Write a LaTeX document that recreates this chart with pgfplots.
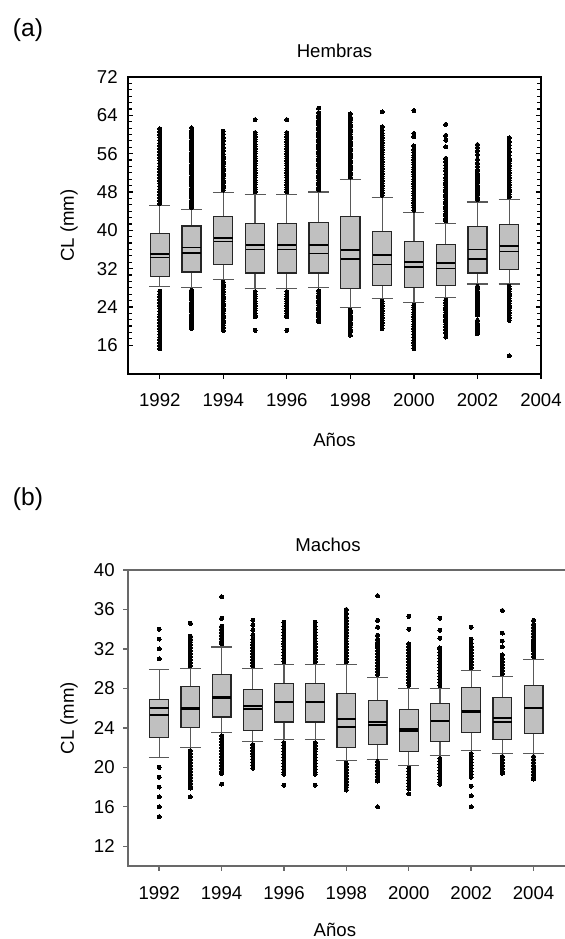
\documentclass[border=0pt]{standalone}
\usepackage{fontspec}
\setmainfont{Liberation Sans}
\usepackage{pgfplots}
\pgfplotsset{compat=1.18}
\usepgfplotslibrary{statistics}
\definecolor{boxgray}{RGB}{192,192,192}
\definecolor{axgray}{RGB}{105,105,105}
\newcommand{\tf}{\fontsize{9.3}{11}\selectfont}
\pgfplotsset{
  bx/.style={black, line width=0.55pt, mark=*, mark size=1.0pt,
    mark options={fill=black, draw=black, line width=0pt},
    boxplot/draw direction=y,
    boxplot/box extend=0.6, boxplot/whisker extend=0.66,
    boxplot/every box/.style={fill=boxgray, draw=black!85, line width=0.6pt},
    boxplot/every whisker/.style={draw=black!65, line width=0.6pt},
    boxplot/every median/.style={draw=black, line width=0.95pt},
    boxplot/draw/average/.code={\draw[black, line width=0.7pt] (boxplot box cs:\pgfplotsboxplotvalue{average},0) -- (boxplot box cs:\pgfplotsboxplotvalue{average},1);},
  },
  common/.style={anchor=south west, scale only axis,
    tick align=inside, major tick length=2.5pt, minor tick length=1.8pt,
    x tick style={yshift=-2.5pt},
    xtick pos=bottom,
    every tick label/.append style={font=\tf},
    /pgf/number format/1000 sep={}, /pgf/number format/assume math mode=true,
    xmin=0, xtick={1,3,5,7,9,11,13}, xticklabels={1992,1994,1996,1998,2000,2002,2004},
    xlabel={Años}, ylabel={CL (mm)},
    xlabel style={font=\tf, anchor=center},
    ylabel style={font=\tf, anchor=center},
  }
}
\newcommand{\bp}[8]{\addplot[bx, boxplot prepared={draw position=#1, lower whisker=#2, lower quartile=#3, median=#4, average=#5, upper quartile=#6, upper whisker=#7}] table[row sep=\\, y index=0] {#8};}
\begin{document}
\begin{tikzpicture}
\useasboundingbox (0,0) rectangle (282pt,469.5pt);
\node[font=\fontsize{12.3}{14}\selectfont, anchor=center] at (14pt,454.5pt) {(a)};
\node[font=\tf, anchor=base] at (167.25pt,440.6pt) {Hembras};
\node[font=\fontsize{12.3}{14}\selectfont, anchor=center] at (14pt,220pt) {(b)};
\node[font=\tf, anchor=base] at (164pt,193.5pt) {Machos};
\begin{axis}[common, at={(64pt,282.5pt)}, width=206.5pt, height=148.5pt,
  xmax=13, ymin=10, ymax=72,
  ytick={16,24,...,72}, minor y tick num=5, ytick pos=both, yticklabel pos=left,
  axis line style={black, line width=0.6pt}, tick style={black, line width=0.6pt},
  xticklabel style={anchor=north, inner sep=0pt, yshift=-9.5pt},
  yticklabel style={anchor=east, inner sep=0pt, xshift=-5pt},
  xlabel style={at={(axis description cs:0.5,-0.222)}},
  ylabel style={at={(axis description cs:-0.143,0.5)}},
]
\bp{1}{28.2}{30.3}{35.1}{34.3}{39.3}{45.2}{45.6\\46.2\\46.8\\47.4\\48.0\\48.6\\49.2\\49.8\\50.4\\51.0\\51.6\\52.2\\52.8\\53.4\\54.0\\54.6\\55.2\\55.8\\56.4\\57.0\\57.6\\58.2\\58.8\\59.4\\60.0\\60.6\\61.2\\27.3\\26.7\\26.1\\25.5\\24.9\\24.3\\23.7\\23.1\\22.5\\21.9\\21.3\\20.7\\20.1\\19.5\\18.9\\18.3\\17.7\\17.1\\16.5\\15.9\\15.3\\}
\bp{2}{28.0}{31.3}{36.4}{35.3}{40.9}{44.3}{44.8\\45.3\\45.8\\46.3\\46.8\\47.3\\47.8\\48.3\\48.8\\49.3\\49.8\\50.3\\50.8\\51.3\\51.8\\52.3\\52.8\\53.3\\53.8\\54.3\\54.8\\55.3\\55.8\\56.3\\56.8\\57.3\\57.8\\58.3\\58.8\\59.3\\59.8\\60.3\\60.8\\61.4\\27.5\\27.0\\26.5\\26.0\\25.5\\25.0\\24.5\\24.0\\23.5\\23.0\\22.5\\22.0\\21.5\\21.0\\20.5\\20.0\\19.5\\}
\bp{3}{29.8}{32.9}{38.3}{37.7}{42.9}{47.9}{48.4\\48.9\\49.4\\49.9\\50.4\\50.9\\51.4\\51.9\\52.4\\52.9\\53.4\\53.9\\54.4\\54.9\\55.4\\55.9\\56.6\\57.3\\58.0\\58.7\\59.4\\60.1\\60.7\\29.2\\28.7\\28.2\\27.7\\27.2\\26.7\\26.2\\25.7\\25.2\\24.7\\24.2\\23.7\\23.2\\22.7\\22.2\\21.7\\21.2\\20.7\\20.2\\19.7\\19.1\\}
\bp{4}{27.8}{31.1}{36.9}{36.0}{41.4}{47.5}{48.0\\48.5\\49.0\\49.5\\50.0\\50.5\\51.0\\51.5\\52.0\\52.5\\53.0\\53.5\\54.0\\54.5\\55.0\\55.5\\56.0\\56.5\\57.0\\57.5\\58.0\\58.5\\59.0\\59.5\\60.0\\60.4\\63.1\\27.2\\26.7\\26.2\\25.7\\25.2\\24.7\\24.2\\23.7\\23.2\\22.7\\22.2\\21.9\\19.1\\}
\bp{5}{27.8}{31.1}{36.9}{36.0}{41.4}{47.5}{48.0\\48.5\\49.0\\49.5\\50.0\\50.5\\51.0\\51.5\\52.0\\52.5\\53.0\\53.5\\54.0\\54.5\\55.0\\55.5\\56.0\\56.5\\57.0\\57.5\\58.0\\58.5\\59.0\\59.5\\60.0\\60.4\\63.1\\27.2\\26.7\\26.2\\25.7\\25.2\\24.7\\24.2\\23.7\\23.2\\22.7\\22.2\\21.9\\19.1\\}
\bp{6}{28.0}{31.1}{36.9}{35.1}{41.7}{48.0}{48.5\\49.0\\49.5\\50.0\\50.5\\51.0\\51.5\\52.0\\52.5\\53.0\\53.5\\54.0\\54.5\\55.0\\55.5\\56.0\\56.5\\57.0\\57.5\\58.0\\58.5\\59.0\\59.5\\60.0\\60.5\\61.0\\61.5\\62.0\\62.5\\63.0\\63.5\\64.0\\64.6\\65.5\\27.4\\26.9\\26.4\\25.9\\25.4\\24.9\\24.4\\23.9\\23.4\\22.9\\22.4\\21.9\\21.4\\20.9\\}
\bp{7}{23.8}{27.8}{35.8}{34.0}{42.8}{50.6}{51.1\\51.6\\52.1\\52.6\\53.1\\53.6\\54.1\\54.6\\55.1\\55.6\\56.1\\56.6\\57.1\\57.6\\58.1\\58.6\\59.1\\59.6\\60.1\\60.6\\61.1\\61.6\\62.1\\62.6\\63.1\\63.6\\64.3\\23.3\\22.8\\22.3\\21.8\\21.3\\20.8\\20.3\\19.8\\19.3\\18.8\\18.1\\}
\bp{8}{25.7}{28.5}{34.8}{32.8}{39.7}{46.8}{47.3\\47.8\\48.3\\48.8\\49.3\\49.8\\50.3\\50.8\\51.3\\51.8\\52.3\\52.8\\53.3\\53.8\\54.3\\54.8\\55.3\\55.8\\56.3\\56.8\\57.3\\57.8\\58.3\\58.8\\59.3\\59.8\\60.3\\60.9\\61.6\\64.7\\25.2\\24.7\\24.2\\23.7\\23.2\\22.7\\22.2\\21.7\\21.2\\20.7\\20.2\\19.5\\}
\bp{9}{24.9}{28.0}{33.4}{32.3}{37.6}{43.7}{44.2\\44.7\\45.2\\45.7\\46.2\\46.7\\47.2\\47.7\\48.2\\48.7\\49.2\\49.7\\50.2\\50.7\\51.2\\51.7\\52.2\\52.7\\53.2\\53.7\\54.2\\54.7\\55.2\\55.7\\56.2\\56.8\\57.6\\59.5\\60.2\\65.0\\24.4\\23.9\\23.4\\22.9\\22.4\\21.9\\21.4\\20.9\\20.4\\19.9\\19.4\\18.9\\18.2\\17.7\\17.0\\16.5\\15.9\\15.3\\}
\bp{10}{25.9}{28.5}{33.1}{32.0}{37.1}{41.5}{42.0\\42.5\\43.0\\43.5\\44.0\\44.5\\45.0\\45.5\\46.0\\46.5\\47.0\\47.5\\48.0\\48.5\\49.0\\49.5\\50.0\\50.5\\51.0\\51.7\\52.4\\53.0\\53.6\\54.3\\55.0\\57.4\\58.8\\59.8\\62.1\\25.4\\24.9\\24.4\\23.9\\23.4\\22.9\\22.4\\21.9\\21.4\\20.9\\20.4\\19.9\\19.3\\18.6\\17.7\\}
\bp{11}{28.8}{31.1}{36.0}{34.0}{40.8}{45.9}{46.4\\46.9\\47.4\\47.9\\48.4\\48.9\\49.4\\49.9\\50.4\\50.9\\51.4\\51.9\\52.6\\53.3\\54.0\\54.8\\55.8\\56.6\\57.3\\57.9\\28.3\\27.8\\27.3\\26.8\\26.3\\25.8\\25.3\\24.8\\24.3\\23.8\\23.3\\22.8\\22.3\\21.2\\20.6\\20.0\\19.4\\18.9\\18.4\\}
\bp{12}{28.8}{31.8}{36.7}{35.6}{41.2}{46.5}{47.0\\47.5\\48.0\\48.5\\49.0\\49.5\\50.0\\50.5\\51.0\\51.5\\52.0\\52.5\\53.0\\53.5\\54.0\\54.5\\55.0\\55.7\\56.4\\57.1\\57.8\\58.5\\59.3\\28.3\\27.8\\27.3\\26.8\\26.3\\25.8\\25.3\\24.8\\24.3\\23.8\\23.3\\22.8\\22.3\\21.7\\21.2\\13.8\\}
\end{axis}
\begin{axis}[common, at={(64pt,36.5pt)}, width=221.5pt, height=148pt,
  xmax=14.2, ymin=10, ymax=40,
  ytick={12,16,...,40}, ytick pos=left, y tick style={xshift=-2.5pt},
  axis line style={axgray, line width=0.7pt}, tick style={axgray, line width=0.7pt},
  xticklabel style={anchor=north, inner sep=0pt, yshift=-10pt},
  yticklabel style={anchor=east, inner sep=0pt, xshift=-6.5pt},
  xlabel style={at={(axis description cs:0.467,-0.216)}},
  ylabel style={at={(axis description cs:-0.133,0.5)}},
]
\bp{1}{21.0}{23.0}{26.0}{25.3}{26.9}{29.9}{31\\32\\33\\34\\20\\19\\18\\17\\16\\15\\}
\bp{2}{22.0}{24.0}{26.0}{25.9}{28.2}{30.0}{30.3\\30.6\\30.9\\31.2\\31.5\\31.8\\32.1\\32.4\\32.7\\33.0\\33.3\\34.6\\21.7\\21.4\\21.1\\20.8\\20.5\\20.2\\19.9\\19.6\\19.3\\19.0\\18.7\\18.4\\18.1\\17.9\\17.0\\}
\bp{3}{23.5}{25.1}{27.1}{27.0}{29.4}{32.2}{32.5\\32.8\\33.1\\33.4\\33.7\\34.0\\34.3\\35.1\\37.3\\23.2\\22.9\\22.6\\22.3\\22.0\\21.7\\21.4\\21.1\\20.8\\20.5\\20.2\\19.9\\19.6\\19.4\\18.3\\}
\bp{4}{22.6}{23.7}{26.2}{25.9}{27.9}{30.0}{30.3\\30.6\\30.9\\31.2\\31.5\\31.8\\32.1\\32.4\\32.7\\33.0\\33.4\\33.9\\34.4\\34.9\\22.3\\22.0\\21.7\\21.4\\21.1\\20.8\\20.5\\20.2\\19.9\\}
\bp{5}{22.8}{24.6}{26.6}{26.6}{28.5}{30.4}{30.7\\31.0\\31.3\\31.6\\31.9\\32.2\\32.5\\32.8\\33.1\\33.4\\33.7\\34.0\\34.3\\34.7\\22.5\\22.2\\21.9\\21.6\\21.3\\21.0\\20.7\\20.4\\20.1\\19.8\\19.5\\19.3\\18.2\\}
\bp{6}{22.8}{24.6}{26.6}{26.6}{28.5}{30.4}{30.7\\31.0\\31.3\\31.6\\31.9\\32.2\\32.5\\32.8\\33.1\\33.4\\33.7\\34.0\\34.3\\34.7\\22.5\\22.2\\21.9\\21.6\\21.3\\21.0\\20.7\\20.4\\20.1\\19.8\\19.5\\19.3\\18.2\\}
\bp{7}{20.7}{22.0}{24.9}{24.1}{27.5}{30.4}{30.7\\31.0\\31.3\\31.6\\31.9\\32.2\\32.5\\32.8\\33.1\\33.4\\33.7\\34.0\\34.3\\34.6\\34.9\\35.2\\35.6\\36.0\\20.4\\20.1\\19.8\\19.5\\19.2\\18.9\\18.6\\18.3\\18.0\\17.7\\}
\bp{8}{20.8}{22.3}{24.6}{24.3}{26.8}{29.1}{29.4\\29.7\\30.0\\30.3\\30.6\\30.9\\31.2\\31.5\\31.8\\32.1\\32.4\\32.7\\33.0\\33.4\\34.2\\34.9\\37.4\\20.6\\20.3\\20.0\\19.7\\19.4\\19.1\\18.8\\18.6\\16.0\\}
\bp{9}{20.2}{21.6}{23.9}{23.7}{25.9}{28.0}{28.3\\28.6\\28.9\\29.2\\29.5\\29.8\\30.1\\30.4\\30.7\\31.0\\31.3\\31.6\\31.9\\32.2\\32.5\\34.0\\35.3\\19.9\\19.6\\19.3\\19.0\\18.7\\18.4\\18.1\\17.8\\17.3\\}
\bp{10}{21.2}{22.6}{24.7}{24.7}{26.5}{28.0}{28.3\\28.6\\28.9\\29.2\\29.5\\29.8\\30.1\\30.4\\30.7\\31.0\\31.3\\31.6\\31.9\\32.1\\33.1\\33.9\\35.1\\20.9\\20.6\\20.3\\20.0\\19.7\\19.4\\19.1\\18.8\\18.5\\18.3\\}
\bp{11}{21.7}{23.5}{25.7}{25.6}{28.1}{29.8}{30.1\\30.4\\30.7\\31.0\\31.3\\31.6\\31.9\\32.2\\32.6\\33.0\\34.2\\21.4\\21.1\\20.8\\20.5\\20.2\\19.9\\19.6\\19.3\\19.0\\18.1\\17.1\\16.0\\}
\bp{12}{21.4}{22.8}{25.0}{24.6}{27.1}{29.2}{29.5\\29.8\\30.1\\30.4\\30.7\\31.0\\31.4\\32.2\\32.8\\33.6\\35.9\\21.1\\20.8\\20.5\\20.2\\19.9\\19.6\\19.4\\}
\bp{13}{21.4}{23.4}{26.0}{26.0}{28.3}{30.9}{31.2\\31.5\\31.8\\32.1\\32.4\\32.7\\33.0\\33.3\\33.6\\33.9\\34.2\\34.5\\34.9\\21.1\\20.8\\20.5\\20.2\\19.9\\19.6\\19.3\\19.0\\18.8\\}
\end{axis}
\end{tikzpicture}
\end{document}
